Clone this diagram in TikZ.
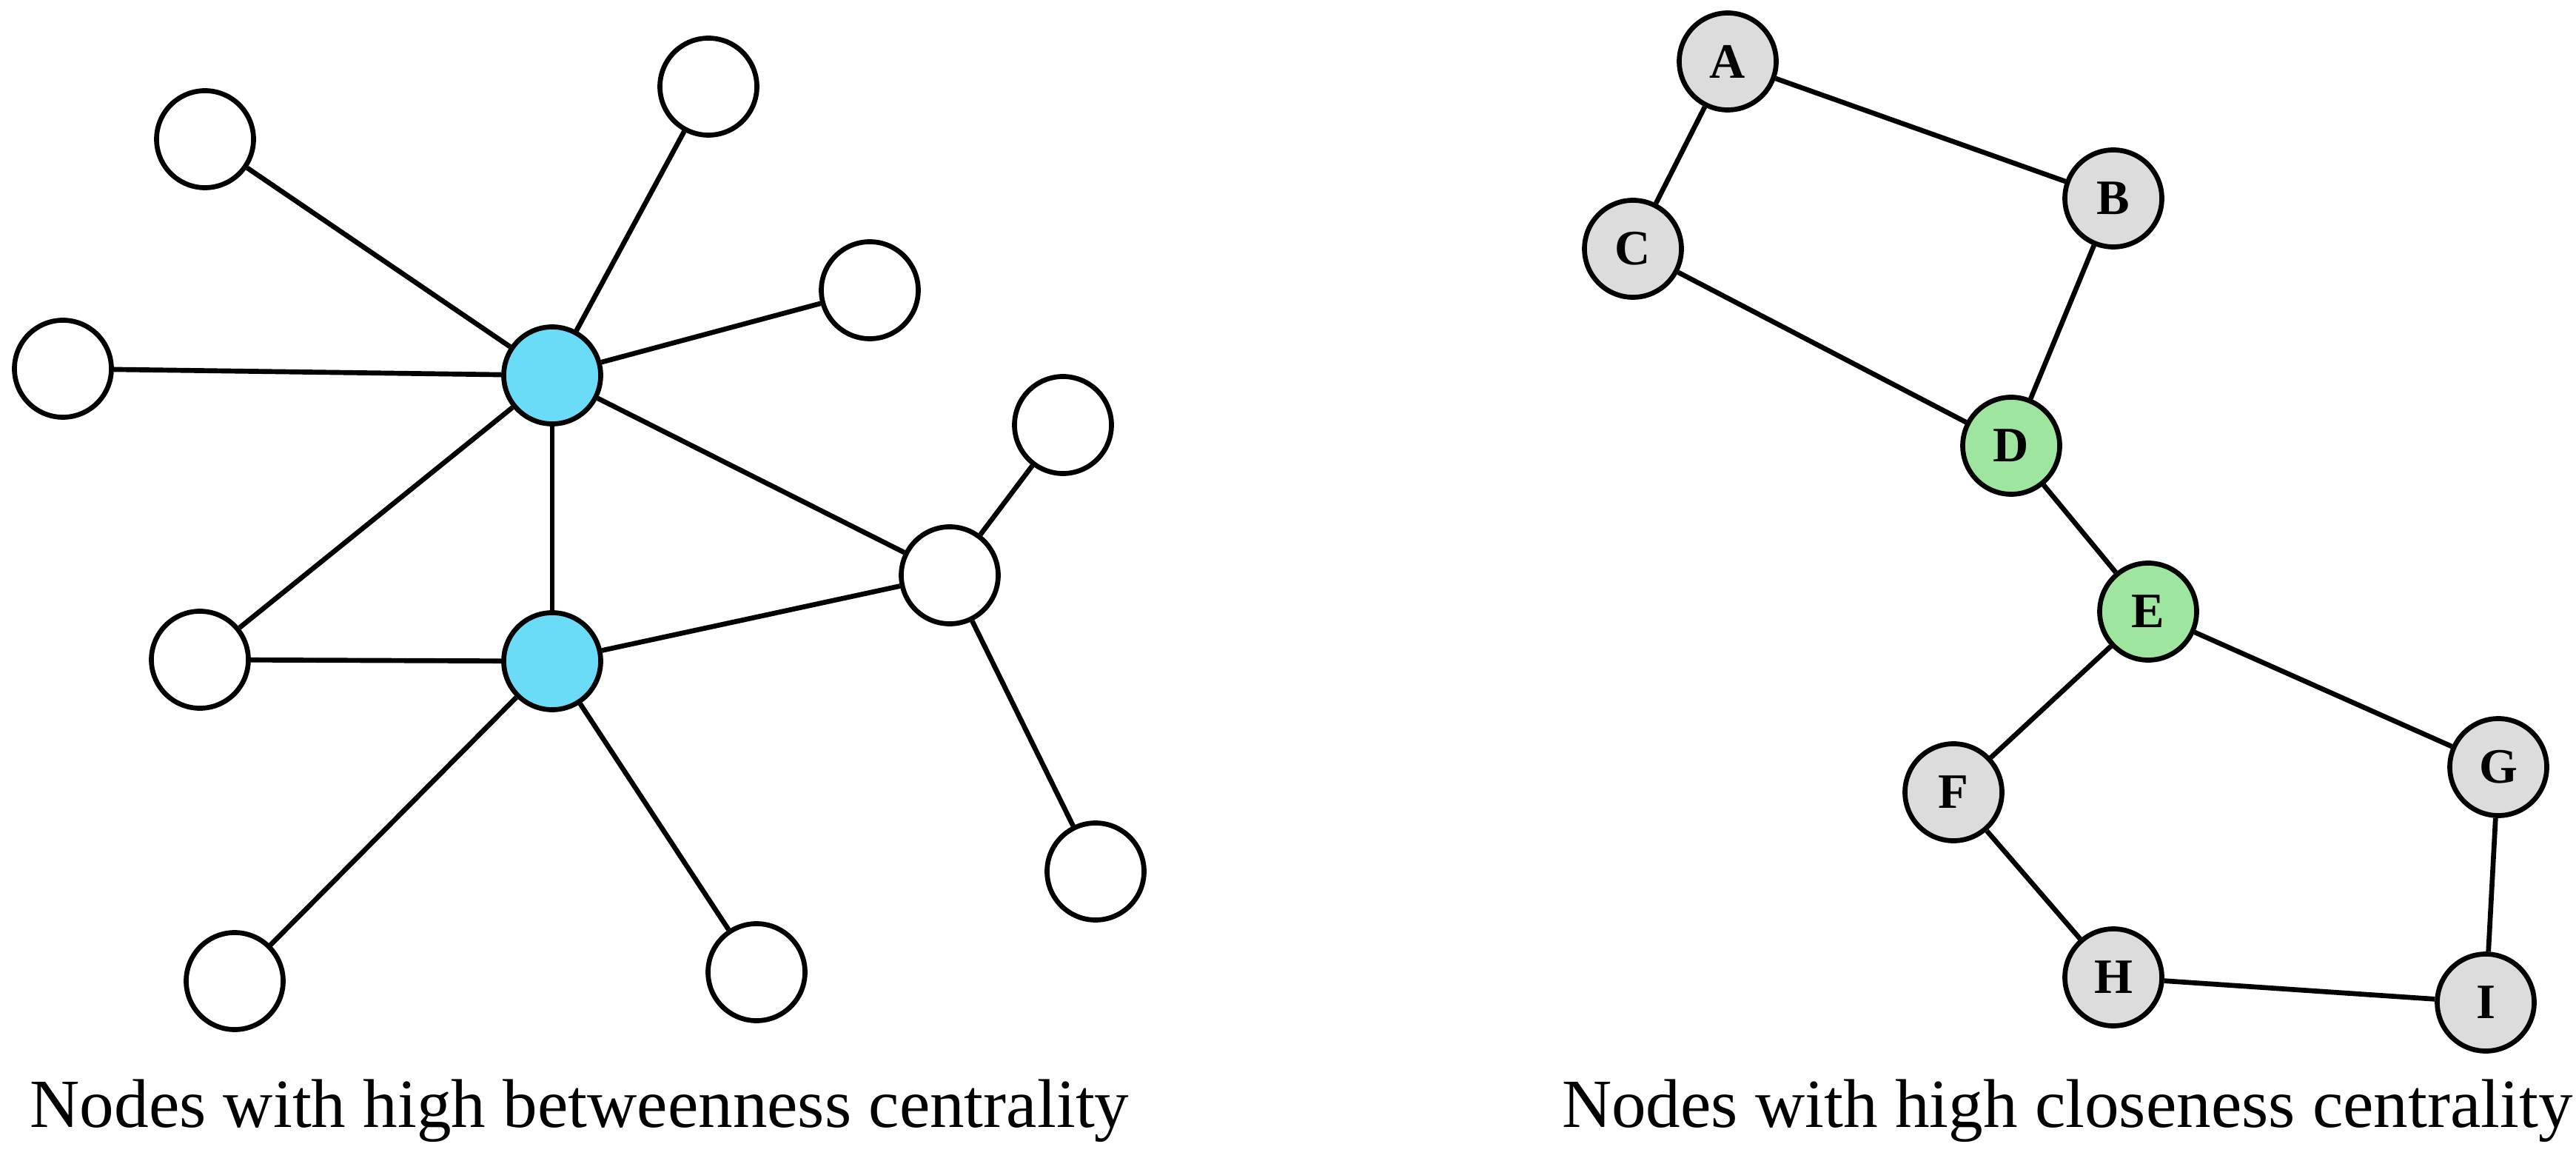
\documentclass[tikz,border=0pt]{standalone}
\usepackage{fontspec}
\setmainfont{Liberation Serif}
\definecolor{nblue}{HTML}{6BDCF7}
\definecolor{ngreen}{HTML}{9EE5A0}
\definecolor{ngray}{HTML}{DCDCDC}
\begin{document}
\begin{tikzpicture}[x=1cm,y=-1cm,
  vert/.style={circle,draw=black,line width=1.9pt,minimum size=1.31cm,inner sep=0pt,fill=white,font=\fontsize{19}{21}\selectfont\bfseries},
  edge/.style={line width=1.9pt,black},
  caption/.style={anchor=base,inner sep=0pt,font=\fontsize{26.5}{30}\selectfont}]
\useasboundingbox (0,0) rectangle (34.8,15.68);
% left graph
\node[vert] (n1) at (2.77,1.88) {};
\node[vert] (n2) at (9.57,1.17) {};
\node[vert] (n3) at (11.75,3.92) {};
\node[vert] (n4) at (0.85,4.98) {};
\node[vert,fill=nblue] (b1) at (7.46,5.07) {};
\node[vert] (n6) at (14.36,5.74) {};
\node[vert] (n7) at (12.83,7.77) {};
\node[vert] (n8) at (2.70,8.91) {};
\node[vert,fill=nblue] (b2) at (7.46,8.93) {};
\node[vert] (n10) at (3.17,13.25) {};
\node[vert] (n11) at (10.22,13.13) {};
\node[vert] (n12) at (14.80,11.77) {};
\foreach \t in {n1,n2,n3,n4,n7,n8,b2} \draw[edge] (b1) -- (\t);
\foreach \t in {n8,n7,n10,n11} \draw[edge] (b2) -- (\t);
\draw[edge] (n7) -- (n6);
\draw[edge] (n7) -- (n12);
% right graph
\node[vert,fill=ngray] (A) at (23.34,0.83) {A};
\node[vert,fill=ngray] (B) at (28.55,2.68) {B};
\node[vert,fill=ngray] (C) at (22.06,3.36) {C};
\node[vert,fill=ngreen] (D) at (27.17,6.02) {D};
\node[vert,fill=ngreen] (E) at (29.02,8.26) {E};
\node[vert,fill=ngray] (F) at (26.39,10.70) {F};
\node[vert,fill=ngray] (G) at (33.75,10.36) {G};
\node[vert,fill=ngray] (H) at (28.55,13.20) {H};
\node[vert,fill=ngray] (I) at (33.58,13.54) {I};
\draw[edge] (A) -- (B);
\draw[edge] (A) -- (C);
\draw[edge] (C) -- (D);
\draw[edge] (B) -- (D);
\draw[edge] (D) -- (E);
\draw[edge] (E) -- (F);
\draw[edge] (E) -- (G);
\draw[edge] (F) -- (H);
\draw[edge] (G) -- (I);
\draw[edge] (H) -- (I);
% captions
\node[caption] (capL) at (7.83,15.22) {Nodes with high betweenness centrality};
\node[caption] (capR) at (27.93,15.22) {Nodes with high closeness centrality};
\end{tikzpicture}
\end{document}
